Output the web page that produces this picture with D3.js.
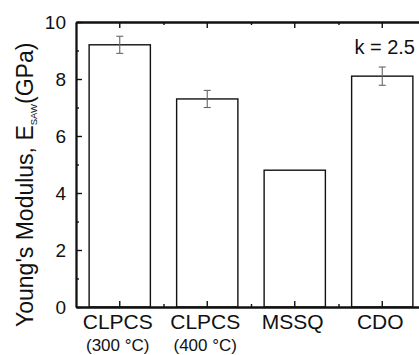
<!DOCTYPE html>
<html>
<head>
<meta charset="utf-8">
<script src="https://cdn.jsdelivr.net/npm/d3@7"></script>
<style>
    body { margin: 0; background: #fff; }
    svg { display: block; font-family: "Liberation Sans", Arial, sans-serif; }
</style>
</head>
<body>
<div id="chart"></div>
<script>
// Chart data
const categories = ["CLPCS", "CLPCS ", "MSSQ", "CDO"];
const subLabels = ["(300 °C)", "(400 °C)", "", ""];
const modulus = [9.2, 7.3, 4.8, 8.1];
const errors = [0.3, 0.3, 0, 0.32];
const yTicks = [0, 2, 4, 6, 8, 10];
const yMinorTicks = [1, 3, 5, 7, 9];

function drawChart() {
    const width = 419;
    const height = 355;
    const margin = { top: 22, right: -7, bottom: 48, left: 76 };
    const usableWidth = width - margin.left - margin.right;
    const usableHeight = height - margin.top - margin.bottom;

    const svg = d3.select("#chart")
        .append("svg")
        .attr("width", width)
        .attr("height", height);

    const g = svg.append("g")
        .attr("transform", `translate(${margin.left},${margin.top})`);

    // Scales
    const xScale = d3.scaleBand()
        .domain(categories)
        .range([0, usableWidth])
        .paddingInner(0.3)
        .paddingOuter(0.15);

    // boundaries between categories (for minor ticks)
    const xEdge = d3.scaleLinear()
        .domain([0, categories.length])
        .range([0, usableWidth]);

    const yScale = d3.scaleLinear()
        .domain([0, 10])
        .range([usableHeight, 0]);

    // Bars
    g.selectAll("rect.bar")
        .data(modulus)
        .join("rect")
        .attr("class", "bar")
        .attr("x", (d, i) => xScale(categories[i]))
        .attr("y", (d) => yScale(d))
        .attr("width", xScale.bandwidth())
        .attr("height", (d) => usableHeight - yScale(d))
        .attr("fill", "#fff")
        .attr("stroke", "#111")
        .attr("stroke-width", 1.4);

    // Error bars
    const errData = modulus.map((v, i) => ({ v, e: errors[i], c: categories[i] }))
        .filter((d) => d.e > 0);
    const errG = g.append("g")
        .attr("stroke", "#666")
        .attr("stroke-width", 1.1);
    errData.forEach((d) => {
        const cx = xScale(d.c) + xScale.bandwidth() / 2;
        errG.append("line")
            .attr("x1", cx).attr("x2", cx)
            .attr("y1", yScale(d.v + d.e)).attr("y2", yScale(d.v - d.e));
        [d.v + d.e, d.v - d.e].forEach((y) => {
            errG.append("line")
                .attr("x1", cx - 3.5).attr("x2", cx + 3.5)
                .attr("y1", yScale(y)).attr("y2", yScale(y));
        });
    });

    // Axes (ticks pointing inward, no outer ticks)
    const yAxis = g.append("g")
        .call(d3.axisLeft(yScale).tickValues(yTicks).tickSize(-6).tickSizeOuter(0).tickPadding(10));
    g.append("g")
        .call(d3.axisLeft(yScale).tickValues(yMinorTicks).tickSize(-3).tickSizeOuter(0).tickFormat(""));

    g.append("g")
        .attr("transform", `translate(0,${usableHeight})`)
        .call(d3.axisBottom(xScale).tickSize(-6).tickSizeOuter(0).tickFormat(""));
    g.append("g")
        .attr("transform", `translate(0,${usableHeight})`)
        .call(d3.axisBottom(xEdge).tickValues([1, 2, 3]).tickSize(-3).tickSizeOuter(0).tickFormat(""));

    g.append("g")
        .call(d3.axisTop(xScale).tickSize(-6).tickSizeOuter(0).tickFormat(""));
    g.append("g")
        .call(d3.axisTop(xEdge).tickValues([1, 2, 3]).tickSize(-3).tickSizeOuter(0).tickFormat(""));

    g.selectAll(".domain")
        .attr("stroke", "#111")
        .attr("stroke-width", 1.8);
    g.selectAll(".tick line")
        .attr("stroke", "#111")
        .attr("stroke-width", 1.4);

    yAxis.selectAll("text")
        .attr("font-size", 19)
        .attr("fill", "#111")
        .attr("font-family", "Liberation Sans, Arial, sans-serif");

    // Category labels (two lines)
    const labels = g.append("g")
        .attr("transform", `translate(0,${usableHeight})`)
        .attr("text-anchor", "middle")
        .attr("fill", "#111");
    categories.forEach((c, i) => {
        const cx = xScale(c) + xScale.bandwidth() / 2;
        labels.append("text")
            .attr("x", cx - 2)
            .attr("y", 22)
            .attr("font-size", 21)
            .text(c.trim());
        if (subLabels[i]) {
            labels.append("text")
                .attr("x", cx - 2)
                .attr("y", 44)
                .attr("font-size", 17)
                .text(subLabels[i]);
        }
    });

    // Y axis title with subscript, sized to span from y=327 up to y=37
    const title = svg.append("text")
        .attr("transform", `translate(33,327) rotate(-90)`)
        .attr("font-size", 22)
        .attr("fill", "#111");
    title.append("tspan").text("Young's Modulus, E");
    title.append("tspan").attr("font-size", 9.5).attr("dy", 4).text("SAW");
    title.append("tspan").attr("dy", -4).text("(GPa)");
    const len = title.node().getComputedTextLength();
    const fs = 22 * 290 / len;
    title.attr("font-size", Math.min(23, Math.max(19, fs)));
}

drawChart();

// Annotation
d3.select("svg").append("text")
    .attr("x", 415)
    .attr("y", 54)
    .attr("text-anchor", "end")
    .attr("font-size", 20)
    .attr("fill", "#111")
    .text("k = 2.5");
</script>
</body>
</html>
